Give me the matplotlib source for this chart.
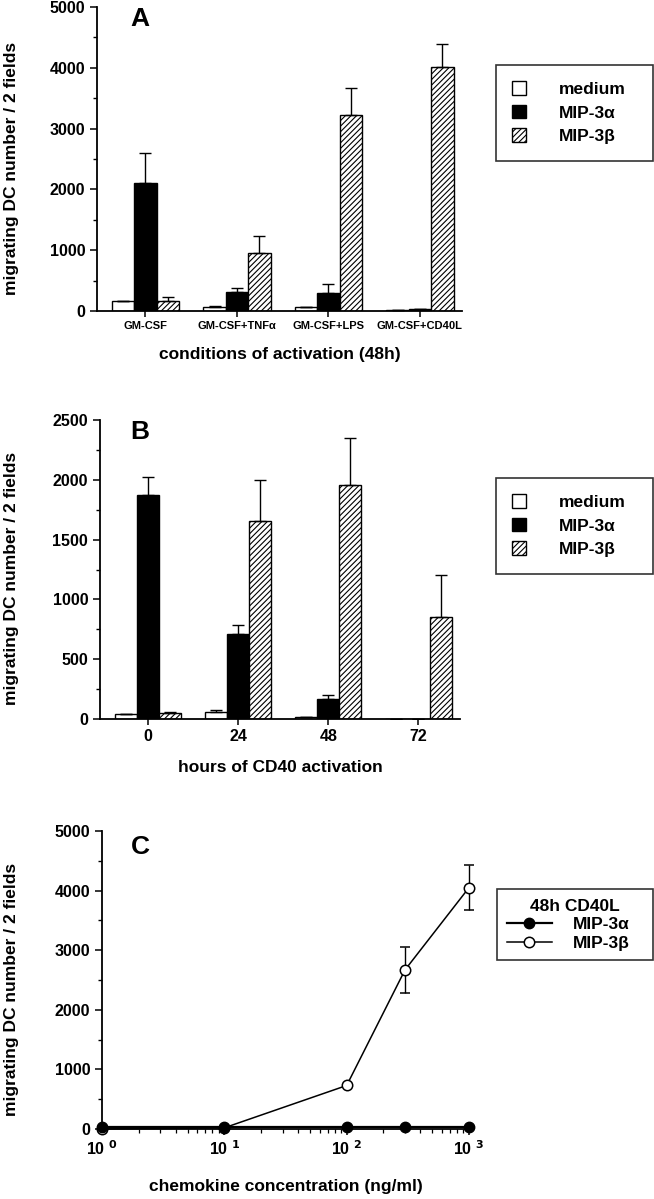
import numpy as np
import matplotlib.pyplot as plt
from matplotlib.ticker import MultipleLocator, FixedLocator, NullFormatter

plt.rcParams['font.family'] = ['Liberation Sans', 'DejaVu Sans']
plt.rcParams['font.weight'] = 'bold'
plt.rcParams['axes.labelweight'] = 'bold'
plt.rcParams['hatch.linewidth'] = 0.8

# Panel A - conditions of activation (48h)
cond_labels = ['GM-CSF', 'GM-CSF+TNFα', 'GM-CSF+LPS', 'GM-CSF+CD40L']
a_medium = [165, 70, 70, 20]
a_medium_err = [0, 20, 0, 0]
a_mip3a = [2100, 315, 300, 40]
a_mip3a_err = [500, 65, 140, 0]
a_mip3b = [170, 955, 3230, 4010]
a_mip3b_err = [65, 280, 440, 385]

# Panel B - hours of CD40 activation
hours = ['0', '24', '48', '72']
b_medium = [42, 55, 15, 0]
b_medium_err = [0, 22, 0, 0]
b_mip3a = [1870, 710, 165, 0]
b_mip3a_err = [155, 72, 35, 0]
b_mip3b = [53, 1655, 1955, 850]
b_mip3b_err = [8, 345, 395, 350]

# Panel C - chemokine dose response
conc = [1, 10, 100, 300, 1000]
c_mip3a = [30, 30, 30, 30, 30]
c_mip3b = [0, 20, 730, 2670, 4050]
c_mip3b_err = [0, 0, 0, 385, 380]

W, H = 654, 1199
fig = plt.figure(figsize=(W / 100, H / 100), dpi=100)


def px_axes(x0, x1, ytop, ybot):
    return fig.add_axes([x0 / W, 1 - ybot / H, (x1 - x0) / W, (ybot - ytop) / H])


def style(ax):
    for s in ['top', 'right']:
        ax.spines[s].set_visible(False)
    for s in ['left', 'bottom']:
        ax.spines[s].set_linewidth(1.3)
    ax.tick_params(axis='y', which='major', length=5, width=1.1, labelsize=11.5)
    ax.tick_params(axis='y', which='minor', length=3, width=1.0)
    ax.tick_params(axis='x', which='major', length=4, width=1.1)


def bar_panel(ax, labels, med, med_err, ma, ma_err, mb, mb_err):
    x = np.arange(len(labels))
    w = 0.245
    ekw = dict(capsize=4, ecolor='black', elinewidth=1.0, capthick=1.0)
    z = np.zeros(len(labels))
    b1 = ax.bar(x - w, med, w, color='white', edgecolor='black', linewidth=1.0,
                yerr=[z, med_err], error_kw=ekw)
    b2 = ax.bar(x, ma, w, color='black', edgecolor='black', linewidth=1.0,
                yerr=[z, ma_err], error_kw=ekw)
    b3 = ax.bar(x + w, mb, w, color='white', edgecolor='black', linewidth=1.0,
                hatch='//////', yerr=[z, mb_err], error_kw=ekw)
    ax.set_xticks(x)
    ax.set_xlim(-0.53, 3.46)
    return [b1, b2, b3]


def bar_legend(handles, ytop):
    leg = fig.legend(handles, ['medium', 'MIP-3α', 'MIP-3β'], loc='upper left',
                     bbox_to_anchor=(496 / W, 1 - ytop / H - 0.01, 157 / W, 0.01),
                     mode='expand', fontsize=12.5, frameon=True, fancybox=False,
                     edgecolor='black', handlelength=0.8, handleheight=0.8,
                     handletextpad=1.9, labelspacing=0.45, borderpad=0.95,
                     borderaxespad=0)
    leg.get_frame().set_linewidth(1.2)
    return leg


ylab = 'migrating DC number / 2 fields'

# ---- A ----
axA = px_axes(97, 462, 7, 311)
hA = bar_panel(axA, cond_labels, a_medium, a_medium_err, a_mip3a, a_mip3a_err,
               a_mip3b, a_mip3b_err)
axA.set_ylim(0, 5000)
axA.yaxis.set_major_locator(MultipleLocator(1000))
axA.yaxis.set_minor_locator(MultipleLocator(500))
axA.set_xticklabels(cond_labels, fontsize=8)
style(axA)
axA.set_ylabel(ylab, fontsize=12.5)
axA.yaxis.set_label_coords(-0.215, 0.47)
axA.set_xlabel('conditions of activation (48h)', fontsize=12.5, labelpad=11)
axA.text(0.09, 0.96, 'A', transform=axA.transAxes, fontsize=19, va='center')
bar_legend(hA, 65)

# ---- B ----
axB = px_axes(100, 460, 420, 719)
hB = bar_panel(axB, hours, b_medium, b_medium_err, b_mip3a, b_mip3a_err,
               b_mip3b, b_mip3b_err)
axB.set_ylim(0, 2500)
axB.yaxis.set_major_locator(MultipleLocator(500))
axB.yaxis.set_minor_locator(MultipleLocator(250))
axB.set_xticklabels(hours, fontsize=11.5)
style(axB)
axB.set_ylabel(ylab, fontsize=12.5)
axB.yaxis.set_label_coords(-0.225, 0.47)
axB.set_xlabel('hours of CD40 activation', fontsize=12.5, labelpad=11)
axB.text(0.085, 0.96, 'B', transform=axB.transAxes, fontsize=19, va='center')
bar_legend(hB, 478)

# ---- C ----
axC = px_axes(102, 469, 831, 1129)
axC.set_xscale('log')
lb = axC.errorbar(conc, c_mip3b, yerr=c_mip3b_err, color='black', lw=1.1,
                  marker='o', ms=7.5, mfc='white', mec='black', mew=1.1,
                  capsize=3.5, elinewidth=1.0, clip_on=False, zorder=3)
la, = axC.plot(conc, c_mip3a, color='black', lw=1.6, marker='o', ms=7.5,
               mfc='black', mec='black', clip_on=False, zorder=4)
axC.set_xlim(1, 1000)
axC.set_ylim(0, 5000)
axC.yaxis.set_major_locator(MultipleLocator(1000))
axC.yaxis.set_minor_locator(MultipleLocator(500))
axC.xaxis.set_major_locator(FixedLocator([1, 10, 100, 1000]))
axC.set_xticklabels(['10 $^{0}$', '10 $^{1}$', '10 $^{2}$', '10 $^{3}$'], fontsize=11.5)
axC.xaxis.set_minor_formatter(NullFormatter())
style(axC)
axC.tick_params(axis='x', which='minor', length=3, width=0.9)
axC.set_ylabel(ylab, fontsize=12.5)
axC.yaxis.set_label_coords(-0.225, 0.47)
axC.set_xlabel('chemokine concentration (ng/ml)', fontsize=12.5, labelpad=15)
axC.text(0.08, 0.945, 'C', transform=axC.transAxes, fontsize=19, va='center')

legC = fig.legend([la, lb[0]], ['MIP-3α', 'MIP-3β'], loc='upper left',
                  bbox_to_anchor=(497 / W, 1 - 889 / H - 0.01, 156 / W, 0.01),
                  mode='expand', title='48h CD40L', fontsize=12.5,
                  title_fontproperties={'weight': 'bold', 'size': 12.5},
                  frameon=True, fancybox=False, edgecolor='black',
                  handlelength=2.6, handletextpad=1.2, labelspacing=0.2,
                  borderpad=0.55, borderaxespad=0)
legC.get_frame().set_linewidth(1.2)

fig.savefig('out.png', dpi=100)
